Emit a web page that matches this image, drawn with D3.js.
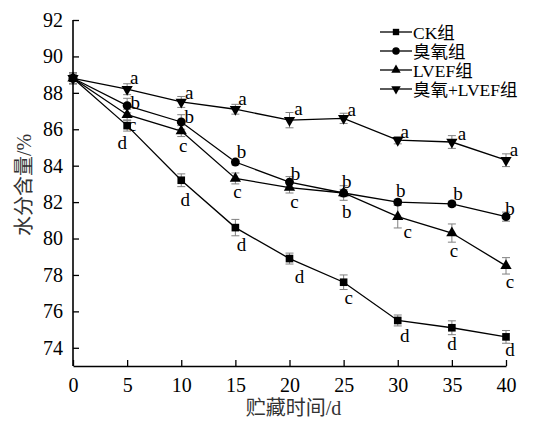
<!DOCTYPE html>
<meta charset="utf-8">
<style>
body { margin: 0; background: #fff; }
* { font-family: "Liberation Serif", "Times New Roman", "Noto Sans CJK SC", serif; }
.line { fill: none; stroke: #000; stroke-width: 1.3px; }
.err { stroke: #808080; stroke-width: 1px; }
</style>
<body>
<script src="https://cdn.jsdelivr.net/npm/d3@7"></script>
<script>

// storage time (d)
var days = [0, 5, 10, 15, 20, 25, 30, 35, 40];

var seriesNames = ["CK组", "臭氧组", "LVEF组", "臭氧+LVEF组"];

// water content (%)
var ckValues     = [88.8, 86.2, 83.2, 80.6, 78.9, 77.6, 75.5, 75.1, 74.6];
var ozoneValues  = [88.8, 87.3, 86.4, 84.2, 83.1, 82.5, 82.0, 81.9, 81.2];
var lvefValues   = [88.8, 86.8, 85.9, 83.3, 82.8, 82.5, 81.2, 80.3, 78.5];
var comboValues  = [88.8, 88.2, 87.5, 87.1, 86.5, 86.6, 85.4, 85.3, 84.3];

// error bars (±)
var ckErr    = [0.3, 0.3, 0.35, 0.45, 0.3, 0.4, 0.3, 0.38, 0.35];
var ozoneErr = [0.3, 0.4, 0.4, 0.15, 0.3, 0.2, 0.15, 0.15, 0.25];
var lvefErr  = [0.3, 0.3, 0.3, 0.3, 0.3, 0.4, 0.62, 0.5, 0.45];
var comboErr = [0.3, 0.3, 0.3, 0.27, 0.42, 0.28, 0.2, 0.35, 0.35];

// significance letters
var ckLetters    = ["", "d", "d", "d", "d", "c", "d", "d", "d"];
var ozoneLetters = ["", "b", "b", "b", "b", "b", "b", "b", "b"];
var lvefLetters  = ["", "c", "c", "c", "c", "b", "c", "c", "c"];
var comboLetters = ["", "a", "a", "a", "a", "a", "a", "a", "a"];

var yTicks = [74, 76, 78, 80, 82, 84, 86, 88, 90, 92];
var xTicks = [0, 5, 10, 15, 20, 25, 30, 35, 40];

// letter placement relative to the point (px)
var letterOffsets = [
  [[0,0],[-5,17],[4,19],[6,17],[10,18],[5,15],[7,15],[0,16],[4,13]],
  [[0,0],[8,-3],[8,-5],[6,-11],[6,-9],[3,-12],[3,-12],[6,-10],[4,-8]],
  [[0,0],[5,10],[2,14],[2,13],[5,14],[3,18],[10,15],[2,17],[4,16]],
  [[0,0],[7,-12],[8,-9],[7,-11],[9,-12],[8,-9],[7,-9],[10,-9],[8,-11]]
];

var series = [
  {name: seriesNames[0], values: ckValues, err: ckErr, letters: ckLetters, symbol: d3.symbolSquare, size: 58},
  {name: seriesNames[1], values: ozoneValues, err: ozoneErr, letters: ozoneLetters, symbol: d3.symbolCircle, size: 62},
  {name: seriesNames[2], values: lvefValues, err: lvefErr, letters: lvefLetters, symbol: d3.symbolTriangle, size: 55},
  {name: seriesNames[3], values: comboValues, err: comboErr, letters: comboLetters, symbol: d3.symbolTriangle, size: 55, flip: true}
];

var margin = {top: 20, right: 42, bottom: 55, left: 73},
    width = 548 - margin.left - margin.right,
    height = 421 - margin.top - margin.bottom;

var x = d3.scaleLinear().domain([0, 40]).range([0, width]);
var y = d3.scaleLinear().domain([73, 92]).range([height, 0]);

var svg = d3.select("body").append("svg")
    .attr("width", 548)
    .attr("height", 421)
  .append("g")
    .attr("transform", "translate(" + margin.left + "," + margin.top + ")");

var line = d3.line()
    .x(function(d, i) { return x(days[i]); })
    .y(function(d) { return y(d); });

series.forEach(function(s) {
  svg.append("path")
      .datum(s.values)
      .attr("class", "line")
      .attr("d", line);

  // error bars
  var g = svg.append("g");
  s.values.forEach(function(v, i) {
    var cx = x(days[i]), y1 = y(v + s.err[i]), y2 = y(v - s.err[i]);
    g.append("line").attr("class", "err").attr("x1", cx).attr("x2", cx).attr("y1", y1).attr("y2", y2);
    g.append("line").attr("class", "err").attr("x1", cx - 4).attr("x2", cx + 4).attr("y1", y1).attr("y2", y1);
    g.append("line").attr("class", "err").attr("x1", cx - 4).attr("x2", cx + 4).attr("y1", y2).attr("y2", y2);
  });
});

series.forEach(function(s, si) {
  svg.selectAll(null)
      .data(s.values)
    .enter().append("path")
      .attr("d", d3.symbol().type(s.symbol).size(s.size))
      .attr("transform", function(d, i) {
        return "translate(" + x(days[i]) + "," + y(d) + ")" + (s.flip ? " rotate(180)" : "");
      })
      .attr("fill", "#000");

  svg.selectAll(null)
      .data(s.values)
    .enter().append("text")
      .attr("x", function(d, i) { return x(days[i]) + letterOffsets[si][i][0]; })
      .attr("y", function(d, i) { return y(d) + letterOffsets[si][i][1]; })
      .attr("text-anchor", "middle")
      .attr("dominant-baseline", "central")
      .attr("font-size", "19px")
      .text(function(d, i) { return s.letters[i]; });
});

// axes
var xAxis = svg.append("g")
    .attr("transform", "translate(0," + height + ")")
    .call(d3.axisBottom(x).tickValues(xTicks).tickSize(-6).tickPadding(12).tickSizeOuter(0));
var yAxis = svg.append("g")
    .call(d3.axisLeft(y).tickValues(yTicks).tickSize(-6).tickPadding(10).tickSizeOuter(0));

[xAxis, yAxis].forEach(function(a) {
  a.select(".domain").attr("stroke-width", 1.6);
  a.selectAll(".tick line").attr("stroke-width", 1.3);
  a.selectAll(".tick text").attr("font-size", "20px").attr("fill", "#000")
      .style("font-family", "'Liberation Serif', serif");
});
xAxis.selectAll(".tick text").attr("dy", "0.71em");
// y axis line reaches the top tick
yAxis.select(".domain").attr("d", "M0," + height + "V" + y(92));

svg.append("text")
    .attr("text-anchor", "middle")
    .attr("transform", "translate(" + (width / 2 + 4) + "," + (height + 49) + ")")
    .attr("font-size", "20px")
    .attr("fill", "#333")
    .text("贮藏时间/d");

svg.append("text")
    .attr("text-anchor", "middle")
    .attr("transform", "translate(" + -42 + "," + (height / 2 - 8) + ")rotate(-90)")
    .attr("font-size", "20px")
    .attr("fill", "#333")
    .text("水分含量/%");

// legend
var legend = svg.append("g")
    .attr("transform", "translate(" + (380 - margin.left) + "," + (32 - margin.top) + ")");
series.forEach(function(s, i) {
  var row = legend.append("g").attr("transform", "translate(0," + (i * 19) + ")");
  row.append("line").attr("x1", 0).attr("x2", 32).attr("y1", 0).attr("y2", 0)
      .attr("stroke", "#000").attr("stroke-width", 1.3);
  row.append("path")
      .attr("d", d3.symbol().type(s.symbol).size(s.size * 0.7))
      .attr("transform", "translate(16,0)" + (s.flip ? " rotate(180)" : ""));
  row.append("text")
      .attr("x", 33)
      .attr("y", 1)
      .attr("dominant-baseline", "central")
      .attr("font-size", "17.5px")
      .text(s.name);
});

</script>
</body>
</html>
